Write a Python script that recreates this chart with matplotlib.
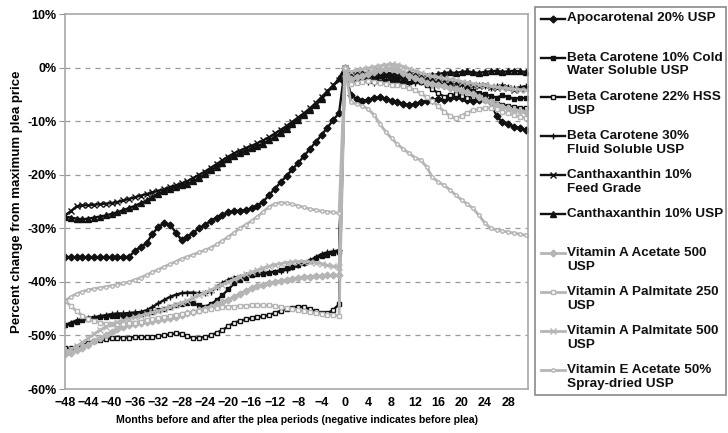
import matplotlib
matplotlib.use("Agg")
import matplotlib.pyplot as plt
from matplotlib.lines import Line2D
from matplotlib.patches import Rectangle
from matplotlib.ticker import FuncFormatter, MultipleLocator

plt.rcParams['font.family'] = ['Liberation Sans', 'DejaVu Sans']
plt.rcParams['font.weight'] = 'bold'

# months relative to the plea (0 = plea month)
months = list(range(-48, 32))

# percent change from maximum plea price, before plea (-48..-1) and after (1..31)
apocarotenal_pre = [-35.4, -35.4, -35.4, -35.4, -35.4, -35.4, -35.4, -35.4, -35.4, -35.4, -35.4, -35.3,
                    -34.2, -33.5, -32.8, -31.0, -29.8, -29.0, -29.3, -30.8, -32.2, -31.6, -30.8, -30.0,
                    -29.4, -28.6, -28.0, -27.5, -27.0, -26.8, -26.7, -26.6, -26.3, -25.8, -25.0, -23.8,
                    -22.6, -21.4, -20.2, -19.0, -17.8, -16.5, -15.2, -13.9, -12.6, -11.2, -9.8, -8.5]
apocarotenal_post = [-5.2, -5.8, -6.2, -6.0, -5.7, -5.5, -5.8, -6.2, -6.5, -6.8, -7.0, -6.8, -6.5, -6.2, -6.0,
                     -5.8, -6.0, -5.7, -5.4, -5.6, -6.0, -6.3, -6.0, -5.8, -6.5, -9.0, -10.2, -10.6, -11.0,
                     -11.3, -11.6]

bc10_pre = [-48.1, -47.8, -47.4, -47.1, -46.9, -46.7, -46.6, -46.5, -46.4, -46.3,
            -46.3, -46.2, -46.1, -46.0, -45.9, -45.6, -45.3, -45.0, -44.7, -44.4,
            -44.2, -44.0, -44.0, -44.4, -44.6, -44.2, -43.4, -42.5, -41.4, -40.3,
            -39.7, -39.2, -38.8, -38.6, -38.5, -38.3, -38.1, -37.8, -37.5, -37.2,
            -36.9, -36.5, -36.1, -35.6, -35.2, -34.9, -34.6, -34.4]
bc10_post = [-2.5, -2.2, -2.0, -2.3, -2.5, -2.2, -2.0, -2.3, -2.6, -2.8, -2.5, -2.4, -2.7, -3.0, -3.2,
             -3.0, -3.3, -3.6, -4.0, -4.3, -4.0, -4.4, -4.8, -5.0, -5.3, -5.6, -5.2, -5.5, -5.8, -5.7, -5.7]

bc22_pre = [-52.4, -52.3, -52.1, -51.8, -51.4, -51.1, -50.9, -50.7, -50.5, -50.4,
            -50.4, -50.4, -50.3, -50.3, -50.3, -50.2, -50.1, -50.0, -49.8, -49.6,
            -49.7, -50.1, -50.5, -50.4, -50.3, -50.0, -49.5, -49.0, -48.3, -47.6,
            -47.3, -47.0, -46.8, -46.6, -46.4, -46.2, -45.8, -45.4, -45.0, -44.8,
            -44.6, -44.7, -45.1, -45.5, -45.8, -45.9, -45.2, -44.2]
bc22_post = [-1.5, -1.2, -1.4, -1.6, -1.8, -2.0, -1.7, -1.5, -1.8, -2.0, -2.2, -2.0, -2.3, -3.2, -4.0,
             -4.8, -5.4, -5.2, -5.0, -5.3, -5.6, -5.5, -5.8, -6.0, -6.4, -6.8, -7.0, -7.2, -7.4, -7.5, -7.6]

bc30_pre = [-48.1, -47.6, -47.2, -46.9, -46.7, -46.6, -46.4, -46.2, -46.0, -45.9,
            -45.9, -45.8, -45.7, -45.6, -45.3, -44.7, -44.0, -43.4, -42.8, -42.4,
            -42.1, -42.0, -42.0, -42.1, -42.1, -41.8, -41.0, -40.2, -39.6, -39.2,
            -39.0, -38.8, -38.6, -38.4, -38.3, -38.2, -38.1, -37.9, -37.7, -37.3,
            -36.9, -36.4, -36.0, -35.4, -34.8, -34.5, -34.3, -34.1]
bc30_post = [-2.8, -2.5, -2.3, -2.6, -2.9, -2.7, -2.4, -2.2, -2.5, -2.8, -3.0, -2.8, -2.6, -2.4, -2.6,
             -2.9, -3.2, -3.0, -2.8, -3.2, -3.6, -3.4, -3.2, -3.5, -3.8, -3.5, -3.3, -3.6, -3.9, -3.7, -3.5]

cantha_feed_pre = [-27.6, -26.8, -25.9, -25.7, -25.7, -25.6, -25.5, -25.4, -25.3, -25.1,
                   -24.8, -24.5, -24.2, -23.9, -23.6, -23.3, -23.0, -22.7, -22.3, -22.0,
                   -21.6, -21.2, -20.6, -20.0, -19.4, -18.7, -18.0, -17.3, -16.6, -16.0,
                   -15.5, -15.0, -14.6, -14.1, -13.6, -13.0, -12.3, -11.6, -10.9, -10.1,
                   -9.3, -8.5, -7.6, -6.6, -5.5, -4.4, -3.3, -2.4]
cantha_feed_post = [-1.8, -1.5, -1.3, -1.6, -1.9, -1.7, -1.5, -1.8, -2.1, -2.0, -1.8, -2.1, -2.4, -2.2, -2.0,
                    -2.3, -2.6, -2.5, -2.8, -3.1, -2.9, -3.2, -3.5, -3.3, -3.6, -3.9, -3.7, -3.9, -4.1, -4.0, -3.9]

cantha_usp_pre = [-27.8, -28.0, -28.2, -28.3, -28.2, -28.0, -27.8, -27.6, -27.3, -27.0,
                  -26.6, -26.2, -25.8, -25.3, -24.8, -24.2, -23.6, -23.0, -22.6, -22.3,
                  -22.0, -21.7, -21.2, -20.6, -19.9, -19.2, -18.5, -17.8, -17.1, -16.5,
                  -16.0, -15.5, -15.1, -14.7, -14.2, -13.6, -12.9, -12.2, -11.4, -10.6,
                  -9.8, -8.9, -8.0, -7.0, -5.9, -4.6, -3.4, -2.0]
cantha_usp_post = [-1.2, -0.8, -0.9, -1.1, -1.0, -0.8, -0.9, -1.1, -1.3, -1.2, -1.0, -1.1, -1.3, -1.5, -1.4,
                   -1.2, -1.0, -0.9, -1.0, -0.8, -0.7, -0.9, -1.0, -0.8, -0.7, -0.6, -0.8, -0.7, -0.6, -0.7, -0.8]

vita_acetate_pre = [-53.4, -53.2, -52.8, -52.3, -51.7, -51.1, -50.5, -49.9, -49.3, -48.8,
                    -48.4, -48.1, -47.9, -47.7, -47.5, -47.3, -47.1, -46.9, -46.7, -46.5,
                    -46.2, -45.9, -45.6, -45.3, -45.0, -44.6, -44.2, -43.8, -43.3, -42.8,
                    -42.2, -41.7, -41.2, -40.8, -40.5, -40.2, -40.0, -39.8, -39.6, -39.4,
                    -39.2, -39.1, -39.0, -38.9, -38.9, -38.8, -38.8, -38.8]
vita_acetate_post = [-2.2, -1.8, -1.5, -1.2, -0.8, -0.5, -0.3, -0.2, -0.5, -1.0, -1.5, -2.0, -2.4, -2.8, -3.0,
                     -3.2, -3.5, -3.8, -4.0, -4.3, -4.6, -5.0, -5.5, -6.0, -6.5, -7.0, -7.3, -7.6, -7.9, -8.1, -8.3]

vita_palm250_pre = [-43.5, -44.5, -45.5, -46.3, -46.9, -47.3, -47.6, -47.8, -47.9, -47.9,
                    -47.8, -47.7, -47.6, -47.4, -47.2, -47.0, -46.8, -46.6, -46.4, -46.2,
                    -46.0, -45.8, -45.6, -45.4, -45.2, -45.0, -44.8, -44.7, -44.6, -44.6,
                    -44.5, -44.5, -44.4, -44.4, -44.4, -44.4, -44.5, -44.7, -44.9, -45.1,
                    -45.3, -45.5, -45.7, -45.9, -46.0, -46.1, -46.2, -46.3]
vita_palm250_post = [-3.0, -2.8, -2.6, -2.5, -2.6, -2.8, -3.0, -3.2, -3.3, -3.5, -3.8, -4.2, -4.8, -5.5, -6.3,
                     -7.2, -8.2, -9.0, -9.5, -9.0, -8.4, -8.0, -7.8, -7.6, -7.5, -7.8, -8.2, -8.5, -8.8, -9.2, -9.5]

vita_palm500_pre = [-53.0, -52.6, -52.0, -51.3, -50.5, -49.7, -49.0, -48.4, -47.9, -47.5,
                    -47.2, -46.9, -46.6, -46.3, -46.0, -45.7, -45.4, -45.1, -44.7, -44.3,
                    -43.9, -43.5, -43.0, -42.5, -42.0, -41.5, -41.0, -40.5, -40.0, -39.5,
                    -39.0, -38.6, -38.2, -37.8, -37.4, -37.1, -36.8, -36.6, -36.4, -36.3,
                    -36.2, -36.2, -36.3, -36.4, -36.6, -36.9, -37.1, -37.3]
vita_palm500_post = [-0.8, -0.5, -0.3, -0.1, 0.1, 0.3, 0.5, 0.6, 0.5, 0.2, -0.2, -0.6, -1.0, -1.3, -1.6,
                     -1.8, -2.0, -2.2, -2.4, -2.6, -2.8, -3.0, -3.2, -3.3, -3.5, -3.6, -3.8, -3.9, -4.0, -4.1, -4.2]

vite_pre = [-43.5, -42.8, -42.2, -41.8, -41.5, -41.3, -41.1, -40.9, -40.7, -40.5,
            -40.3, -40.0, -39.6, -39.2, -38.7, -38.2, -37.7, -37.2, -36.7, -36.2,
            -35.7, -35.3, -34.9, -34.5, -34.1, -33.6, -33.0, -32.3, -31.6, -30.8,
            -30.0, -29.3, -28.6, -27.8, -26.9, -26.0, -25.4, -25.2, -25.3, -25.5,
            -25.8, -26.1, -26.4, -26.6, -26.8, -26.9, -27.0, -27.2]
vite_post = [-6.5, -6.8, -7.1, -7.8, -8.8, -10.5, -12.0, -13.2, -14.3, -15.2, -16.0, -16.8, -17.3, -18.5, -20.5,
             -21.3, -22.0, -22.8, -23.8, -24.7, -25.5, -26.3, -27.6, -29.0, -30.0, -30.3, -30.5, -30.7, -30.9,
             -31.1, -31.3]

labels = ["Apocarotenal 20% USP",
          "Beta Carotene 10% Cold\nWater Soluble USP",
          "Beta Carotene 22% HSS\nUSP",
          "Beta Carotene 30%\nFluid Soluble USP",
          "Canthaxanthin 10%\nFeed Grade",
          "Canthaxanthin 10% USP",
          "Vitamin A Acetate 500\nUSP",
          "Vitamin A Palmitate 250\nUSP",
          "Vitamin A Palmitate 500\nUSP",
          "Vitamin E Acetate 50%\nSpray-dried USP"]

pre_values = [apocarotenal_pre, bc10_pre, bc22_pre, bc30_pre, cantha_feed_pre, cantha_usp_pre,
              vita_acetate_pre, vita_palm250_pre, vita_palm500_pre, vite_pre]
post_values = [apocarotenal_post, bc10_post, bc22_post, bc30_post, cantha_feed_post, cantha_usp_post,
               vita_acetate_post, vita_palm250_post, vita_palm500_post, vite_post]

BLACK = '#111111'
GREY = '#b5b5b5'
# colour, marker, marker face, marker size
styles = [(BLACK, 'D', BLACK, 3.5),
          (BLACK, 's', BLACK, 2.5),
          (BLACK, 's', 'white', 3.5),
          (BLACK, '+', BLACK, 5),
          (BLACK, 'x', BLACK, 4),
          (BLACK, '^', BLACK, 4),
          (GREY, 'D', GREY, 3.5),
          (GREY, 's', 'white', 3.5),
          (GREY, 'x', GREY, 4),
          (GREY, 'o', 'white', 2.5)]

fig = plt.figure(figsize=(7.28, 4.33), dpi=100)
ax = fig.add_axes([65 / 728, 1 - 389 / 433, 463 / 728, 375 / 433])

for label, pre, post, (c, m, mfc, ms) in zip(labels, pre_values, post_values, styles):
    vals = pre + [0.0] + post
    lw = 1.7 if c == BLACK else 2.0
    ax.plot(months, vals, color=c, lw=lw, marker=m, ms=ms, mfc=mfc, mec=c, mew=1.0)

ax.set_xlim(-48, 31.4)
ax.set_ylim(-60, 10)
ax.yaxis.set_major_locator(MultipleLocator(10))
ax.yaxis.set_major_formatter(FuncFormatter(lambda v, p: f"{v:.0f}%"))
ax.xaxis.set_major_locator(MultipleLocator(4))
ax.xaxis.set_minor_locator(MultipleLocator(8))
ax.tick_params(axis='x', which='major', length=0, pad=6, labelsize=9)
ax.tick_params(axis='x', which='minor', length=4, color='#999999')
ax.tick_params(axis='y', length=4, color='#999999', labelsize=9, pad=2)

for y in range(-50, 10, 10):
    ax.axhline(y, color='#999999', lw=0.9, ls=(0, (4, 4)), zorder=0)

for s in ax.spines.values():
    s.set_color('#a8a8a8')
    s.set_linewidth(1.2)

ax.set_xlabel("Months before and after the plea periods (negative indicates before plea)",
              fontsize=7.6, fontweight='bold', labelpad=4)
ax.set_ylabel("Percent change from maximum plea price", fontsize=9.5, fontweight='bold', labelpad=3)

# legend box drawn like the spreadsheet one: handle aligned with first text line
W, H = 728, 433
fig.add_artist(Rectangle((535 / W, 1 - 395 / H), 191 / W, 388 / H, transform=fig.transFigure,
                         fill=False, ec='#8a8a8a', lw=1.2))
for k, (label, (c, m, mfc, ms)) in enumerate(zip(labels, styles)):
    y_px = 18.5 + 39.1 * k
    fy = 1 - y_px / H
    fig.add_artist(Line2D([541 / W, 565 / W], [fy, fy], transform=fig.transFigure,
                          color=c, lw=1.7 if c == BLACK else 2.0))
    fig.add_artist(Line2D([553 / W], [fy], transform=fig.transFigure, color=c, marker=m,
                          ms=ms, mfc=mfc, mec=c, mew=1.0))
    fig.text(567 / W, 1 - (y_px - 6) / H, label, fontsize=9.7, fontweight='bold',
             va='top', ha='left', linespacing=1.2, color='#111111')

fig.savefig("out.png", dpi=100)
